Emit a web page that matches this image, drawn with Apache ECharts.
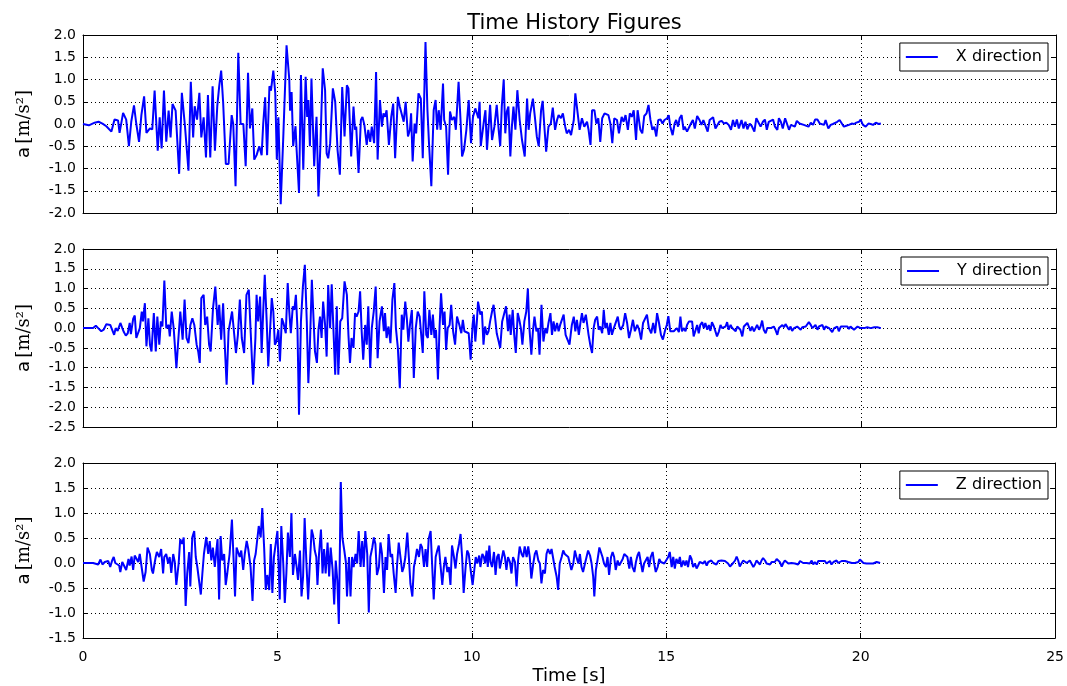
<!DOCTYPE html>
<html>
<head>
<meta charset="utf-8">
<script src="https://cdn.jsdelivr.net/npm/echarts/dist/echarts.min.js"></script>
<style>html,body{margin:0;padding:0;background:#fff}#c{width:1067px;height:686px}</style>
</head>
<body>
<div id="c"></div>
<script>
// Time [s], acceleration [m/s^2] pairs
const seriesNames = ['X direction', 'Y direction', 'Z direction'];
const xTicks = [0, 5, 10, 15, 20, 25];
const yRanges = [[-2.0, 2.0], [-2.5, 2.0], [-1.5, 2.0]];

const accX = [[0,0],[0.15,-0.03],[0.3,0.03],[0.4,0.05],[0.5,0.01],[0.6,-0.05],[0.73,-0.17],[0.81,0.1],[0.9,0.08],[0.94,-0.2],[1.03,0.25],[1.11,0.1],[1.18,-0.5],[1.24,0.05],[1.31,0.42],[1.37,0],[1.44,-0.4],[1.5,0.2],[1.57,0.62],[1.63,-0.2],[1.72,-0.1],[1.78,-0.12],[1.84,0.75],[1.92,-0.6],[1.97,0.15],[2.02,-0.55],[2.08,0.75],[2.14,-0.4],[2.2,0.3],[2.25,-0.3],[2.3,0.45],[2.38,0.3],[2.47,-1.12],[2.54,0.7],[2.62,-0.05],[2.71,-1.05],[2.77,0.95],[2.83,-0.3],[2.87,0.4],[2.93,0.1],[2.99,0.7],[3.04,-0.3],[3.1,0.15],[3.16,-0.75],[3.21,0.65],[3.27,-0.75],[3.33,0.85],[3.39,-0.6],[3.45,0.4],[3.5,0.85],[3.55,1.2],[3.6,0.5],[3.67,-0.9],[3.74,-0.9],[3.82,0.2],[3.86,0],[3.92,-1.4],[3.99,1.6],[4.05,0],[4.12,0],[4.18,-0.95],[4.24,1.15],[4.29,-0.1],[4.35,0.35],[4.4,-0.8],[4.46,-0.7],[4.53,-0.5],[4.59,-0.7],[4.63,0],[4.68,0.6],[4.73,-0.7],[4.79,0.85],[4.83,0.75],[4.89,1.2],[4.94,0.7],[4.98,-0.8],[5.02,0.15],[5.08,-1.8],[5.15,-0.2],[5.23,1.77],[5.3,1],[5.32,0.3],[5.36,0.72],[5.4,-0.5],[5.46,-0.05],[5.49,-0.6],[5.55,-1.55],[5.6,1.1],[5.66,-1.03],[5.72,1.06],[5.76,0.16],[5.79,0.54],[5.83,-0.5],[5.87,1.02],[5.94,-0.95],[6,0.16],[6.05,-1.63],[6.1,-0.47],[6.16,1.25],[6.22,0.76],[6.26,-0.66],[6.3,-0.77],[6.35,-0.43],[6.42,0.8],[6.48,0.5],[6.54,-0.58],[6.6,-1.14],[6.66,0.83],[6.72,-0.28],[6.78,0.87],[6.82,0.8],[6.89,-0.73],[6.95,0.39],[6.99,-0.13],[7.02,-0.06],[7.08,-1.1],[7.14,0.09],[7.18,0.16],[7.23,-0.02],[7.29,-0.47],[7.33,-0.13],[7.38,-0.4],[7.42,-0.06],[7.48,-0.43],[7.53,1.17],[7.57,-0.8],[7.63,0.54],[7.68,-0.06],[7.72,0.24],[7.76,0.16],[7.8,0.31],[7.86,-0.47],[7.92,0.16],[7.97,0.46],[8.02,-0.77],[8.09,0.61],[8.14,0.39],[8.19,0.42],[8.24,0.05],[8.29,0.5],[8.35,-0.28],[8.4,-0.13],[8.43,0.24],[8.47,-0.84],[8.52,0.01],[8.56,-0.21],[8.62,0.69],[8.68,0.57],[8.73,-0.77],[8.8,1.84],[8.85,0.31],[8.89,-0.43],[8.95,-1.4],[9.01,0.31],[9.06,0.54],[9.1,-0.13],[9.14,0.31],[9.19,-0.13],[9.25,0.91],[9.28,0.09],[9.33,-0.06],[9.38,-1.14],[9.43,0.28],[9.48,0.09],[9.54,0.16],[9.58,-0.13],[9.65,0.95],[9.7,0.09],[9.74,-0.73],[9.79,-0.58],[9.85,-0.13],[9.91,0.54],[9.97,-0.43],[10.02,0.16],[10.08,0.35],[10.16,0.13],[10.19,0.5],[10.22,-0.5],[10.27,-0.54],[10.31,0.13],[10.34,0.31],[10.38,-0.58],[10.42,-0.58],[10.46,0.43],[10.51,-0.36],[10.57,-0.06],[10.63,0.43],[10.68,-0.13],[10.72,-0.5],[10.76,0.39],[10.81,1],[10.85,-0.21],[10.89,0.28],[10.93,0.39],[10.98,-0.73],[11.02,-0.06],[11.06,0.39],[11.11,-0.13],[11.16,0.76],[11.22,0.09],[11.28,-0.36],[11.35,-0.73],[11.41,0.57],[11.45,-0.13],[11.49,0.24],[11.56,0.57],[11.61,0.16],[11.66,-0.28],[11.71,-0.5],[11.77,0.31],[11.81,0.52],[11.86,-0.13],[11.9,-0.62],[11.96,-0.06],[12.02,0.01],[12.07,0.37],[12.13,-0.13],[12.18,0.09],[12.22,0.2],[12.28,0.13],[12.33,0.24],[12.39,-0.06],[12.43,-0.21],[12.49,-0.13],[12.54,-0.25],[12.61,0.09],[12.65,0.69],[12.71,0.24],[12.76,-0.13],[12.82,0.13],[12.88,-0.06],[12.95,0.05],[12.99,-0.13],[13.04,-0.47],[13.08,0.31],[13.14,0.31],[13.19,0.01],[13.24,0.13],[13.29,-0.4],[13.34,0.13],[13.4,0.24],[13.45,0.28],[13.5,0.2],[13.55,0.01],[13.6,-0.43],[13.65,0.13],[13.72,0.09],[13.77,-0.21],[13.84,0.16],[13.89,0.05],[13.94,0.2],[14,-0.13],[14.05,0.24],[14.1,0.16],[14.15,0.31],[14.21,-0.36],[14.25,0.31],[14.32,-0.13],[14.37,-0.21],[14.42,0.18],[14.48,0.24],[14.53,0.43],[14.58,0.09],[14.63,-0.13],[14.68,-0.06],[14.73,-0.28],[14.78,0.09],[14.84,0.1],[14.89,0.01],[14.94,0.09],[15.01,0.13],[15.05,0.2],[15.09,-0.06],[15.15,-0.25],[15.2,0.01],[15.24,0.09],[15.29,-0.06],[15.33,0.13],[15.38,0.2],[15.43,-0.13],[15.46,-0.06],[15.52,-0.17],[15.57,-0.21],[15.62,0.01],[15.67,0.09],[15.72,-0.1],[15.78,0.18],[15.84,0.09],[15.89,-0.02],[15.94,0.09],[15.99,0.09],[16.05,-0.17],[16.1,0.09],[16.14,0.13],[16.19,0.15],[16.25,-0.1],[16.3,-0.13],[16.35,0.05],[16.41,0.07],[16.47,0.01],[16.53,0.03],[16.59,-0.02],[16.65,-0.13],[16.7,0.09],[16.75,-0.06],[16.8,0.1],[16.85,-0.1],[16.92,0.09],[16.97,-0.1],[17.02,0.05],[17.07,-0.12],[17.13,0.01],[17.18,-0.04],[17.25,-0.17],[17.3,0.13],[17.35,0.15],[17.41,-0.06],[17.47,0.05],[17.52,0.1],[17.57,-0.13],[17.62,0.05],[17.67,0.09],[17.73,0.1],[17.78,-0.06],[17.84,-0.13],[17.88,0.13],[17.93,0.05],[17.98,-0.1],[18.04,0.13],[18.09,0.16],[18.14,-0.13],[18.19,-0.02],[18.24,0.01],[18.29,-0.06],[18.34,0.07],[18.41,0.01],[18.46,0.03],[18.52,-0.02],[18.57,0.01],[18.64,-0.06],[18.7,0.03],[18.76,-0.02],[18.81,0.1],[18.87,0.1],[18.93,0.01],[18.98,0.05],[19.04,-0.02],[19.08,0.09],[19.15,-0.1],[19.21,-0.02],[19.27,0],[19.32,-0.04],[19.38,0.05],[19.44,0.09],[19.49,0.05],[19.55,-0.06],[19.61,-0.04],[19.68,-0.02],[19.75,0.01],[19.81,0],[19.87,0.03],[19.94,0.05],[19.98,0.1],[20.04,-0.02],[20.11,-0.06],[20.18,0.01],[20.24,0],[20.3,-0.02],[20.37,0.03],[20.44,0],[20.5,0.01]];

const accY = [[0,0],[0.26,0],[0.33,0.06],[0.39,0],[0.47,-0.08],[0.53,-0.04],[0.6,0.1],[0.64,0.13],[0.7,0.08],[0.75,0.1],[0.8,-0.17],[0.84,0],[0.89,-0.07],[0.96,0.13],[1.01,0],[1.05,-0.1],[1.1,-0.19],[1.15,-0.13],[1.2,0.13],[1.23,-0.15],[1.29,0.24],[1.33,0.32],[1.37,-0.25],[1.42,-0.24],[1.46,0],[1.51,0.42],[1.54,0.17],[1.59,0.63],[1.63,-0.46],[1.68,0.25],[1.72,-0.42],[1.76,-0.59],[1.82,0.38],[1.87,-0.59],[1.91,0.29],[1.96,-0.42],[2,0.17],[2.04,0.04],[2.09,1.2],[2.14,0],[2.2,0.08],[2.23,-0.21],[2.28,0.42],[2.33,0],[2.4,-1.01],[2.44,-0.42],[2.5,0.42],[2.56,-0.29],[2.61,0.72],[2.66,-0.25],[2.71,-0.38],[2.76,0.08],[2.81,0.25],[2.86,0.08],[2.92,-0.42],[2.96,-0.59],[3,-0.88],[3.04,0.76],[3.1,0.84],[3.14,0.08],[3.19,0.29],[3.24,-0.42],[3.28,-0.59],[3.34,0.5],[3.4,1.05],[3.46,0.08],[3.5,0.59],[3.55,-0.29],[3.6,0.63],[3.65,-0.59],[3.69,-1.43],[3.74,-0.08],[3.79,-0.1],[3.83,0.42],[3.88,0.46],[3.93,-0.63],[3.98,-0.17],[4.03,0.72],[4.08,-0.25],[4.14,-0.63],[4.2,0.84],[4.26,0.97],[4.31,-0.13],[4.37,-1.43],[4.43,-0.25],[4.46,0.84],[4.5,0.17],[4.55,0.8],[4.59,-0.63],[4.63,0.42],[4.67,1.35],[4.72,0.17],[4.76,-0.97],[4.8,-0.17],[4.85,0.76],[4.89,0.42],[4.93,-0.42],[4.97,-0.34],[5.02,-0.04],[5.06,-0.84],[5.11,0.25],[5.15,0.13],[5.21,-0.13],[5.26,1.14],[5.3,0.42],[5.34,-0.13],[5.39,0.55],[5.43,0.46],[5.47,0.84],[5.51,0],[5.55,-2.19],[5.6,0.17],[5.65,1.05],[5.7,1.6],[5.75,0.17],[5.79,-1.39],[5.83,-0.42],[5.88,1.22],[5.93,0.08],[5.96,-0.59],[6.01,-0.88],[6.05,-0.04],[6.09,0.29],[6.13,-0.25],[6.17,0.67],[6.22,0.08],[6.26,-0.72],[6.3,1.09],[6.35,0],[6.39,1.11],[6.43,0.08],[6.48,-1.18],[6.52,0.55],[6.56,-1.18],[6.61,0.17],[6.66,0.25],[6.72,1.18],[6.78,0.84],[6.82,-0.17],[6.86,-0.88],[6.9,-0.25],[6.95,-0.5],[6.99,0.38],[7.03,0.29],[7.08,0.42],[7.12,0.93],[7.16,-0.08],[7.2,-0.8],[7.25,0.08],[7.29,-0.42],[7.33,0.55],[7.38,-1.01],[7.42,0],[7.47,0.42],[7.52,1.05],[7.57,-0.76],[7.62,0.17],[7.68,0.55],[7.73,-0.08],[7.76,0.38],[7.8,-0.25],[7.85,0.04],[7.9,-0.38],[7.95,0.72],[8,1.14],[8.04,0],[8.09,-0.5],[8.14,-1.52],[8.19,0.34],[8.23,-0.04],[8.28,0.67],[8.32,0.25],[8.36,-0.34],[8.41,0.17],[8.45,0.46],[8.5,-1.26],[8.55,0],[8.6,0.42],[8.65,0.29],[8.69,-0.17],[8.73,-0.63],[8.77,0.93],[8.82,-0.17],[8.86,-0.25],[8.9,0.46],[8.95,-0.17],[8.99,0.34],[9.03,-0.25],[9.07,-0.04],[9.12,-1.3],[9.16,0],[9.2,0.88],[9.25,0.08],[9.29,0.42],[9.33,-0.55],[9.37,0],[9.42,0.08],[9.46,0.59],[9.51,-0.08],[9.56,-0.42],[9.61,0.29],[9.67,0.08],[9.72,-0.13],[9.76,0.21],[9.8,-0.08],[9.85,-0.04],[9.91,-0.13],[9.96,-0.8],[10.01,0.08],[10.04,0.34],[10.08,-0.34],[10.12,0.17],[10.15,0.67],[10.21,0.34],[10.25,0.42],[10.29,-0.42],[10.33,0.04],[10.38,-0.17],[10.42,-0.08],[10.46,0.17],[10.51,0.42],[10.55,0.59],[10.59,0.25],[10.63,-0.13],[10.69,-0.38],[10.72,-0.5],[10.77,0.17],[10.82,0.13],[10.87,0.55],[10.92,-0.08],[10.96,0.34],[10.99,-0.17],[11.04,0.46],[11.08,-0.17],[11.12,-0.63],[11.17,0.38],[11.21,0.21],[11.25,0],[11.29,-0.42],[11.34,0.17],[11.39,0.42],[11.43,1],[11.47,0],[11.52,-0.67],[11.56,-0.08],[11.6,0.29],[11.65,-0.08],[11.69,0],[11.73,-0.67],[11.78,0.59],[11.83,-0.34],[11.88,0],[11.92,-0.13],[11.96,0.13],[12.01,0.38],[12.05,-0.17],[12.09,0.17],[12.13,-0.08],[12.18,0.13],[12.22,-0.08],[12.26,0.08],[12.31,0.13],[12.35,0.34],[12.4,-0.17],[12.45,-0.13],[12.5,-0.42],[12.56,0.08],[12.61,0.29],[12.65,-0.08],[12.69,0.21],[12.74,-0.17],[12.78,0.13],[12.82,0.38],[12.86,0.13],[12.92,0.34],[12.95,0.38],[12.99,-0.17],[13.04,-0.46],[13.08,-0.63],[13.12,0],[13.16,0.21],[13.21,0.29],[13.25,-0.04],[13.29,0.04],[13.34,-0.13],[13.38,0.46],[13.42,0],[13.46,0.13],[13.51,-0.17],[13.55,0.13],[13.59,-0.17],[13.64,0],[13.69,0.04],[13.74,0.29],[13.78,0.04],[13.82,-0.04],[13.88,0.08],[13.93,0.38],[13.98,0.13],[14.03,-0.25],[14.08,-0.04],[14.13,0.21],[14.18,-0.08],[14.24,0.08],[14.29,-0.04],[14.34,-0.29],[14.39,0.13],[14.44,0.17],[14.49,0.34],[14.54,0],[14.6,-0.13],[14.65,0.13],[14.7,-0.13],[14.75,0.38],[14.8,0.13],[14.85,-0.17],[14.9,-0.29],[14.96,-0.04],[15,0.08],[15.04,0.3],[15.09,-0.08],[15.13,-0.13],[15.18,-0.08],[15.22,-0.13],[15.26,0],[15.31,-0.1],[15.35,0.29],[15.39,-0.08],[15.44,0],[15.48,-0.08],[15.52,0.08],[15.57,0.17],[15.61,0.21],[15.65,0.17],[15.69,-0.21],[15.74,-0.25],[15.78,0.08],[15.82,-0.13],[15.86,0.08],[15.91,0.15],[15.95,0],[15.99,0.13],[16.04,-0.04],[16.08,0.08],[16.12,-0.07],[16.16,0.15],[16.21,0.04],[16.25,0],[16.29,-0.21],[16.34,-0.08],[16.38,0.08],[16.42,0],[16.47,-0.04],[16.51,0.04],[16.55,0.15],[16.59,-0.04],[16.64,0.08],[16.68,0],[16.72,0.04],[16.77,-0.08],[16.81,0.04],[16.85,0.08],[16.89,-0.04],[16.94,-0.21],[16.98,0.04],[17.02,0.08],[17.07,0.13],[17.11,0.15],[17.15,-0.07],[17.19,0.04],[17.24,-0.08],[17.28,0],[17.32,0.08],[17.37,-0.04],[17.41,0.04],[17.45,0.19],[17.49,-0.04],[17.54,-0.13],[17.58,0],[17.62,0.04],[17.67,0],[17.71,0.04],[17.75,0.04],[17.79,-0.04],[17.84,-0.17],[17.88,0],[17.92,0.02],[17.97,0.08],[18.01,0.02],[18.05,0.1],[18.09,0.15],[18.14,-0.04],[18.18,0.04],[18.22,-0.07],[18.27,0],[18.31,-0.04],[18.35,0.04],[18.39,0],[18.44,-0.04],[18.48,0.02],[18.52,0],[18.57,0.04],[18.61,0.08],[18.65,0.15],[18.7,0.08],[18.74,0],[18.78,0.02],[18.82,0.08],[18.87,-0.04],[18.91,0.04],[18.95,0],[19,0.08],[19.04,-0.04],[19.08,0.04],[19.12,0.04],[19.17,0],[19.21,0.02],[19.25,-0.1],[19.3,0],[19.34,-0.04],[19.38,0.04],[19.42,-0.08],[19.47,0.04],[19.51,0],[19.55,0.04],[19.6,0.02],[19.64,0.04],[19.68,-0.02],[19.72,0.04],[19.77,0.08],[19.81,-0.04],[19.85,0],[19.9,0.04],[19.94,0.08],[19.98,0],[20.02,-0.04],[20.07,0],[20.11,-0.02],[20.15,0.02],[20.2,0.04],[20.24,0],[20.28,0.04],[20.33,0.02],[20.37,0.04],[20.41,0.02],[20.45,0],[20.5,0]];

const accZ = [[0,0],[0.26,0],[0.3,-0.01],[0.39,-0.03],[0.45,0.07],[0.5,-0.03],[0.56,0.02],[0.6,-0.01],[0.65,0.04],[0.7,-0.08],[0.75,0.05],[0.79,0.12],[0.83,0],[0.88,0.02],[0.93,-0.05],[0.96,-0.18],[1.01,0.02],[1.06,0.05],[1.11,-0.14],[1.17,0.08],[1.2,-0.05],[1.25,0.13],[1.29,-0.14],[1.33,0.15],[1.37,0.18],[1.42,0.02],[1.46,0.18],[1.5,0.15],[1.56,-0.37],[1.61,-0.18],[1.66,0.31],[1.72,0.18],[1.77,-0.14],[1.8,-0.21],[1.84,-0.01],[1.87,0.12],[1.9,0.22],[1.96,0.12],[2.01,0.28],[2.06,-0.21],[2.09,0.12],[2.14,0.18],[2.19,-0.01],[2.23,0.12],[2.27,-0.2],[2.32,0.18],[2.36,0.02],[2.4,-0.44],[2.46,-0.01],[2.5,0.48],[2.55,0.38],[2.59,0.51],[2.64,-0.86],[2.68,-0.21],[2.73,0.22],[2.76,-0.47],[2.81,0.51],[2.86,0.64],[2.9,0.12],[2.94,-0.08],[2.98,-0.08],[3.03,-0.63],[3.07,-0.21],[3.11,0.18],[3.17,0.52],[3.22,0.18],[3.26,0.44],[3.3,0.05],[3.34,0.31],[3.39,-0.08],[3.43,0.25],[3.46,0.48],[3.5,-0.73],[3.54,0.54],[3.58,0.05],[3.63,0.18],[3.67,-0.44],[3.71,-0.21],[3.77,0.18],[3.83,0.87],[3.87,0.12],[3.91,-0.67],[3.95,0.31],[4,0.31],[4.03,0.12],[4.07,0.25],[4.12,-0.14],[4.16,0.18],[4.21,0.44],[4.25,0.28],[4.31,-0.08],[4.36,-0.76],[4.4,0.05],[4.44,0.18],[4.49,0.18],[4.52,0.74],[4.57,0.51],[4.61,1.1],[4.66,0.28],[4.7,-0.54],[4.74,-0.24],[4.79,-0.54],[4.83,0.38],[4.87,-0.6],[4.91,0.12],[4.96,0.12],[5,0.64],[5.06,-0.73],[5.1,0.74],[5.15,-0.01],[5.19,-0.8],[5.23,-0.21],[5.27,0.61],[5.32,0.12],[5.36,1],[5.4,-0.24],[5.45,0.18],[5.49,-0.05],[5.53,-0.34],[5.58,0.25],[5.62,-0.67],[5.66,-0.27],[5.7,0.9],[5.75,-0.08],[5.79,-0.73],[5.83,-0.08],[5.88,0.67],[5.92,0.54],[5.96,0.25],[6,0.12],[6.03,-0.44],[6.07,0.18],[6.12,0.67],[6.16,-0.21],[6.2,0.28],[6.24,-0.21],[6.29,0.41],[6.33,-0.27],[6.37,0.31],[6.42,-0.14],[6.46,-0.83],[6.5,0.05],[6.54,-0.34],[6.58,-1.22],[6.63,1.62],[6.67,0.51],[6.72,0.25],[6.76,0.02],[6.79,-0.67],[6.84,0.12],[6.88,-0.67],[6.92,0.12],[6.96,-0.08],[7.01,0.18],[7.05,-0.01],[7.09,0.64],[7.14,-0.08],[7.18,0.44],[7.22,-0.08],[7.26,0.64],[7.31,0.18],[7.35,-0.99],[7.39,0.12],[7.44,0.31],[7.48,0.51],[7.52,0.38],[7.56,-0.24],[7.61,-0.08],[7.65,0.41],[7.69,0.18],[7.74,-0.6],[7.78,0.12],[7.82,-0.14],[7.86,0.58],[7.91,0.12],[7.95,0.18],[7.99,-0.21],[8.04,-0.6],[8.08,-0.01],[8.12,0.41],[8.17,0.44],[8.21,-0.18],[8.25,-0.08],[8.29,0.12],[8.34,0.61],[8.38,0.12],[8.42,-0.41],[8.47,-0.67],[8.51,-0.08],[8.55,0.08],[8.59,0.28],[8.64,0.12],[8.68,0.38],[8.72,0.31],[8.77,-0.08],[8.81,0.28],[8.85,-0.08],[8.89,0.48],[8.94,0.64],[8.98,-0.05],[9.02,-0.73],[9.07,0.12],[9.11,0.25],[9.15,0.35],[9.19,-0.01],[9.24,-0.44],[9.28,-0.08],[9.32,0.12],[9.37,-0.18],[9.41,-0.08],[9.45,-0.44],[9.49,0.35],[9.54,0.12],[9.58,-0.11],[9.62,0.18],[9.67,0.38],[9.71,0.58],[9.75,0.12],[9.79,-0.6],[9.84,-0.08],[9.88,0.25],[9.92,0.18],[9.97,-0.14],[10.02,-0.44],[10.1,0.12],[10.14,-0.01],[10.19,0.15],[10.22,-0.08],[10.27,0.18],[10.31,0.12],[10.34,-0.01],[10.38,0.25],[10.41,-0.08],[10.45,0.35],[10.48,0.02],[10.52,-0.08],[10.57,0.22],[10.61,-0.24],[10.65,0.12],[10.69,0.18],[10.72,-0.11],[10.76,-0.14],[10.81,0.25],[10.85,0.12],[10.89,-0.14],[10.93,0.12],[10.98,0.02],[11.02,-0.21],[11.06,0.12],[11.11,0.02],[11.15,-0.47],[11.19,0.05],[11.23,0.33],[11.28,0.18],[11.32,0.12],[11.36,0.33],[11.41,0.12],[11.45,0.33],[11.49,0.12],[11.53,-0.31],[11.58,-0.01],[11.62,0.18],[11.66,0.25],[11.71,0.05],[11.75,-0.01],[11.79,-0.41],[11.83,-0.14],[11.88,-0.21],[11.92,0.18],[11.96,0.28],[12.01,0.18],[12.05,0.28],[12.09,0.31],[12.13,-0.08],[12.18,-0.27],[12.22,-0.54],[12.26,-0.01],[12.31,0.12],[12.35,0.25],[12.39,0.18],[12.43,0.22],[12.48,0.12],[12.52,-0.01],[12.56,-0.14],[12.61,-0.01],[12.65,0.25],[12.69,0.12],[12.74,-0.01],[12.78,0.18],[12.82,-0.08],[12.86,-0.18],[12.91,-0.01],[12.95,0.12],[12.99,0.25],[13.04,0.15],[13.08,-0.01],[13.12,-0.27],[13.15,-0.67],[13.19,-0.14],[13.23,0.05],[13.28,0.31],[13.32,0.28],[13.36,0.12],[13.4,-0.01],[13.45,-0.08],[13.49,0.12],[13.53,-0.24],[13.58,0.12],[13.62,0.22],[13.66,0.12],[13.7,-0.14],[13.75,0.05],[13.79,-0.05],[13.83,-0.01],[13.88,0.08],[13.92,0.18],[13.96,0.22],[14,0.12],[14.05,-0.11],[14.09,0.12],[14.13,-0.08],[14.18,-0.18],[14.22,0.02],[14.26,0.15],[14.3,0.22],[14.35,-0.01],[14.39,-0.18],[14.43,-0.01],[14.48,-0.01],[14.52,0.12],[14.56,-0.08],[14.6,0.12],[14.65,0.22],[14.69,-0.01],[14.73,-0.18],[14.78,-0.08],[14.82,0.08],[14.86,0.02],[14.9,0.05],[14.95,-0.01],[14.99,-0.01],[15.05,0.12],[15.09,0.22],[15.14,-0.08],[15.18,0.12],[15.22,-0.11],[15.26,0.08],[15.31,-0.01],[15.35,0.12],[15.39,-0.08],[15.44,0.05],[15.48,-0.05],[15.52,0.05],[15.56,-0.08],[15.61,0.15],[15.65,0.08],[15.69,-0.08],[15.74,-0.01],[15.78,-0.11],[15.82,-0.05],[15.86,0.02],[15.91,0.05],[15.95,-0.01],[15.99,0.04],[16.04,-0.05],[16.08,0.02],[16.12,-0.01],[16.16,0.05],[16.21,0],[16.25,0.04],[16.29,-0.03],[16.34,0.04],[16.38,0],[16.42,0.05],[16.47,0.08],[16.51,0.04],[16.55,0.02],[16.59,-0.01],[16.64,-0.07],[16.68,-0.05],[16.72,0],[16.77,0.05],[16.81,0.13],[16.85,0.05],[16.89,-0.07],[16.94,0],[16.98,0.05],[17.02,0.08],[17.07,0],[17.11,-0.01],[17.15,0.05],[17.19,0.04],[17.24,-0.08],[17.28,-0.03],[17.32,0.05],[17.37,0.02],[17.41,-0.03],[17.45,0.05],[17.49,0.1],[17.54,0.05],[17.58,-0.01],[17.62,0],[17.67,-0.03],[17.71,0.02],[17.75,-0.01],[17.79,0.02],[17.84,0.08],[17.88,0.12],[17.92,0.02],[17.97,-0.07],[18.01,0],[18.05,0.05],[18.09,0.02],[18.14,-0.01],[18.18,-0.03],[18.22,0],[18.27,0.02],[18.31,-0.01],[18.35,0.02],[18.39,-0.03],[18.44,0.04],[18.48,0.08],[18.52,0],[18.57,0.04],[18.61,0],[18.65,0.04],[18.69,-0.01],[18.74,0.05],[18.78,-0.03],[18.82,0.02],[18.87,-0.03],[18.91,0.04],[18.95,0],[18.99,0.04],[19.04,0.08],[19.08,0.04],[19.12,-0.01],[19.17,0],[19.21,0.04],[19.25,-0.03],[19.3,0.02],[19.34,-0.01],[19.38,0.05],[19.42,0],[19.47,-0.03],[19.51,0.04],[19.55,0],[19.6,0.04],[19.64,0],[19.68,0.02],[19.72,-0.01],[19.77,0],[19.81,-0.01],[19.85,0],[19.9,-0.01],[19.94,0.02],[19.98,0.07],[20.02,0.08],[20.07,0],[20.11,0.04],[20.15,-0.01],[20.2,0.02],[20.24,-0.01],[20.28,0],[20.32,-0.01],[20.37,0],[20.41,0.02],[20.45,0],[20.5,0]];

const allSeries = [accX, accY, accZ];

const FONT = 'DejaVu Sans';
const BLACK = '#000';
const gridTops = [35, 249, 463];
const GRID_LEFT = 83, GRID_W = 973, GRID_H = 178;

const grid = gridTops.map(t => ({left: GRID_LEFT, top: t, width: GRID_W, height: GRID_H, containLabel: false}));

const xAxis = [];
const yAxis = [];
const series = [];
const legend = [];
for (let i = 0; i < 3; i++) {
  xAxis.push({
    gridIndex: i, type: 'value', position: 'bottom', min: xTicks[0], max: xTicks[xTicks.length - 1], interval: 5,
    axisLine: {show: true, onZero: false, lineStyle: {color: BLACK, width: 1}},
    axisTick: {show: true, inside: true, length: 5, lineStyle: {color: BLACK}},
    axisLabel: {show: i === 2, color: BLACK, fontFamily: FONT, fontSize: 14, margin: 12},
    splitLine: {show: true, lineStyle: {color: BLACK, width: 1, type: [1, 3]}},
    name: i === 2 ? 'Time [s]' : '', nameLocation: 'middle', nameGap: 29,
    nameTextStyle: {color: BLACK, fontFamily: FONT, fontSize: 18}
  });
  xAxis.push({
    gridIndex: i, type: 'value', position: 'top', min: xTicks[0], max: xTicks[xTicks.length - 1], interval: 5,
    axisLine: {show: true, onZero: false, lineStyle: {color: BLACK, width: 1}},
    axisTick: {show: true, inside: true, length: 5, lineStyle: {color: BLACK}},
    axisLabel: {show: false}, splitLine: {show: false}
  });
  const [mn, mx] = yRanges[i];
  yAxis.push({
    gridIndex: i, type: 'value', position: 'left', min: mn, max: mx, interval: 0.5,
    axisLine: {show: true, onZero: false, lineStyle: {color: BLACK, width: 1}},
    axisTick: {show: true, inside: true, length: 5, lineStyle: {color: BLACK}},
    axisLabel: {color: BLACK, fontFamily: FONT, fontSize: 14, margin: 7, formatter: v => v.toFixed(1)},
    splitLine: {show: true, lineStyle: {color: BLACK, width: 1, type: [1, 3]}},
    name: '{a|a} {b|[m/s²]}', nameLocation: 'middle', nameRotate: 90, nameGap: 50,
    nameTextStyle: {color: BLACK, rich: {
      a: {fontFamily: FONT, fontSize: 18, color: BLACK},
      b: {fontFamily: 'DejaVu Serif', fontSize: 18, color: BLACK}
    }}
  });
  yAxis.push({
    gridIndex: i, type: 'value', position: 'right', min: mn, max: mx, interval: 0.5,
    axisLine: {show: true, onZero: false, lineStyle: {color: BLACK, width: 1}},
    axisTick: {show: true, inside: true, length: 5, lineStyle: {color: BLACK}},
    axisLabel: {show: false}, splitLine: {show: false}
  });
  series.push({
    name: seriesNames[i], type: 'line', xAxisIndex: i * 2, yAxisIndex: i * 2,
    data: allSeries[i], symbol: 'none', showSymbol: false,
    lineStyle: {color: '#0000ff', width: 2}, itemStyle: {color: '#0000ff'},
    animation: false
  });
  legend.push({
    data: [seriesNames[i]], right: 19, top: gridTops[i] + 8,
    orient: 'vertical', icon: 'rect', itemWidth: 32, itemHeight: 2, itemGap: 0,
    padding: [6, 6, 6, 6], borderColor: BLACK, borderWidth: 1, borderRadius: 0,
    backgroundColor: '#fff',
    textStyle: {color: BLACK, fontFamily: FONT, fontSize: 16, padding: [0, 0, 0, 13], lineHeight: 16}
  });
}

const option = {
  backgroundColor: '#fff',
  animation: false,
  title: {text: 'Time History Figures', left: GRID_LEFT + GRID_W / 2, textAlign: 'center', top: 8,
    textStyle: {color: BLACK, fontFamily: FONT, fontSize: 21, fontWeight: 'normal'}},
  grid, xAxis, yAxis, series, legend
};

const chart = echarts.init(document.getElementById('c'), null, {renderer: 'canvas'});
chart.setOption(option);
</script>
</body>
</html>
